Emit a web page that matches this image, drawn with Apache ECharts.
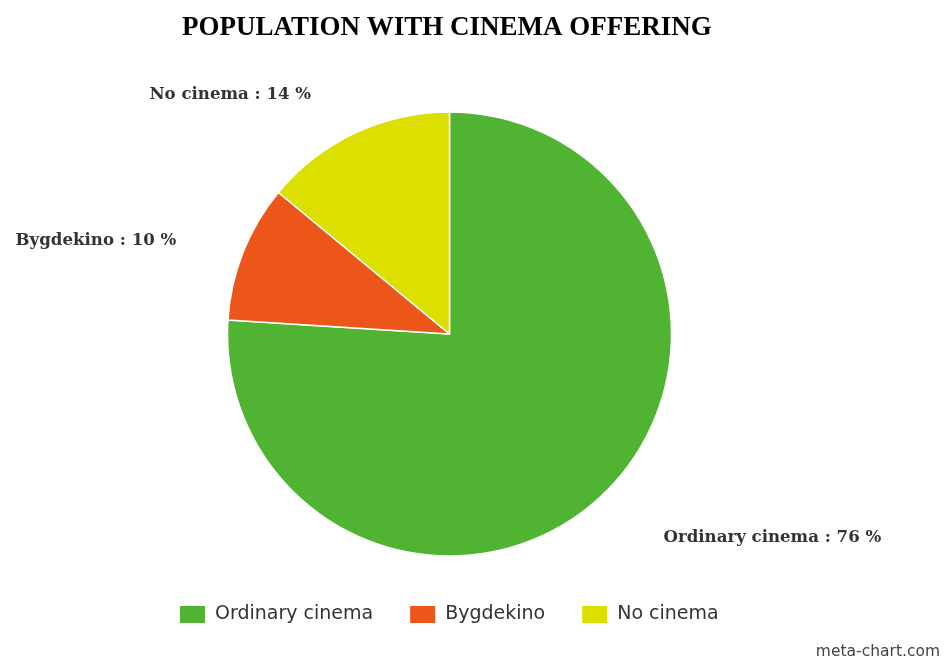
<!DOCTYPE html>
<html>
<head>
<meta charset="utf-8">
<script src="https://cdn.jsdelivr.net/npm/echarts@6/dist/echarts.min.js"></script>
<style>
  html, body { margin: 0; padding: 0; background: #fff; }
  #chart { width: 944px; height: 662px; }
</style>
</head>
<body>
<div id="chart"></div>
<script>
// data
const categories = ['Ordinary cinema', 'Bygdekino', 'No cinema'];
const shares = [76, 10, 14];
const colors = ['#50b432', '#ed561b', '#dddf00'];
// label leader geometry (line is hidden, only used to place the text)
const leadLen = [57, 31, 42];
const leadLen2 = [23, 38, 26];

const chart = echarts.init(document.getElementById('chart'));

const seriesData = categories.map((name, i) => ({
  name: name,
  value: shares[i],
  itemStyle: { color: colors[i] },
  labelLine: { show: false, length: leadLen[i], length2: leadLen2[i] }
}));

const option = {
  backgroundColor: '#fff',
  animation: false,
  title: {
    text: 'POPULATION WITH CINEMA OFFERING',
    left: 177,
    top: 10,
    textStyle: {
      fontFamily: 'Liberation Serif',
      fontWeight: 'bold',
      fontSize: 27,
      color: '#000'
    }
  },
  legend: {
    left: 178,
    top: 604,
    padding: 0,
    itemWidth: 27,
    itemHeight: 19,
    itemGap: 35,
    icon: 'rect',
    data: categories,
    textStyle: {
      fontFamily: 'DejaVu Sans',
      fontSize: 19,
      color: '#333',
      padding: [0, 0, 0, 4]
    }
  },
  graphic: [{
    type: 'text',
    right: 4,
    bottom: 2,
    style: {
      text: 'meta-chart.com',
      fontFamily: 'DejaVu Sans',
      fontSize: 15.5,
      fill: '#444'
    }
  }],
  series: [{
    type: 'pie',
    center: [449.5, 334],
    radius: 222,
    startAngle: 90,
    clockwise: true,
    avoidLabelOverlap: false,
    itemStyle: { borderColor: '#fff', borderWidth: 1.5 },
    label: {
      show: true,
      position: 'outside',
      distanceToLabelLine: 0,
      formatter: '{b} : {c} %',
      fontFamily: 'DejaVu Serif',
      fontWeight: 'bold',
      fontSize: 16.6,
      color: '#333'
    },
    labelLine: { show: false },
    emphasis: { disabled: true },
    data: seriesData
  }]
};

chart.setOption(option);
</script>
</body>
</html>
